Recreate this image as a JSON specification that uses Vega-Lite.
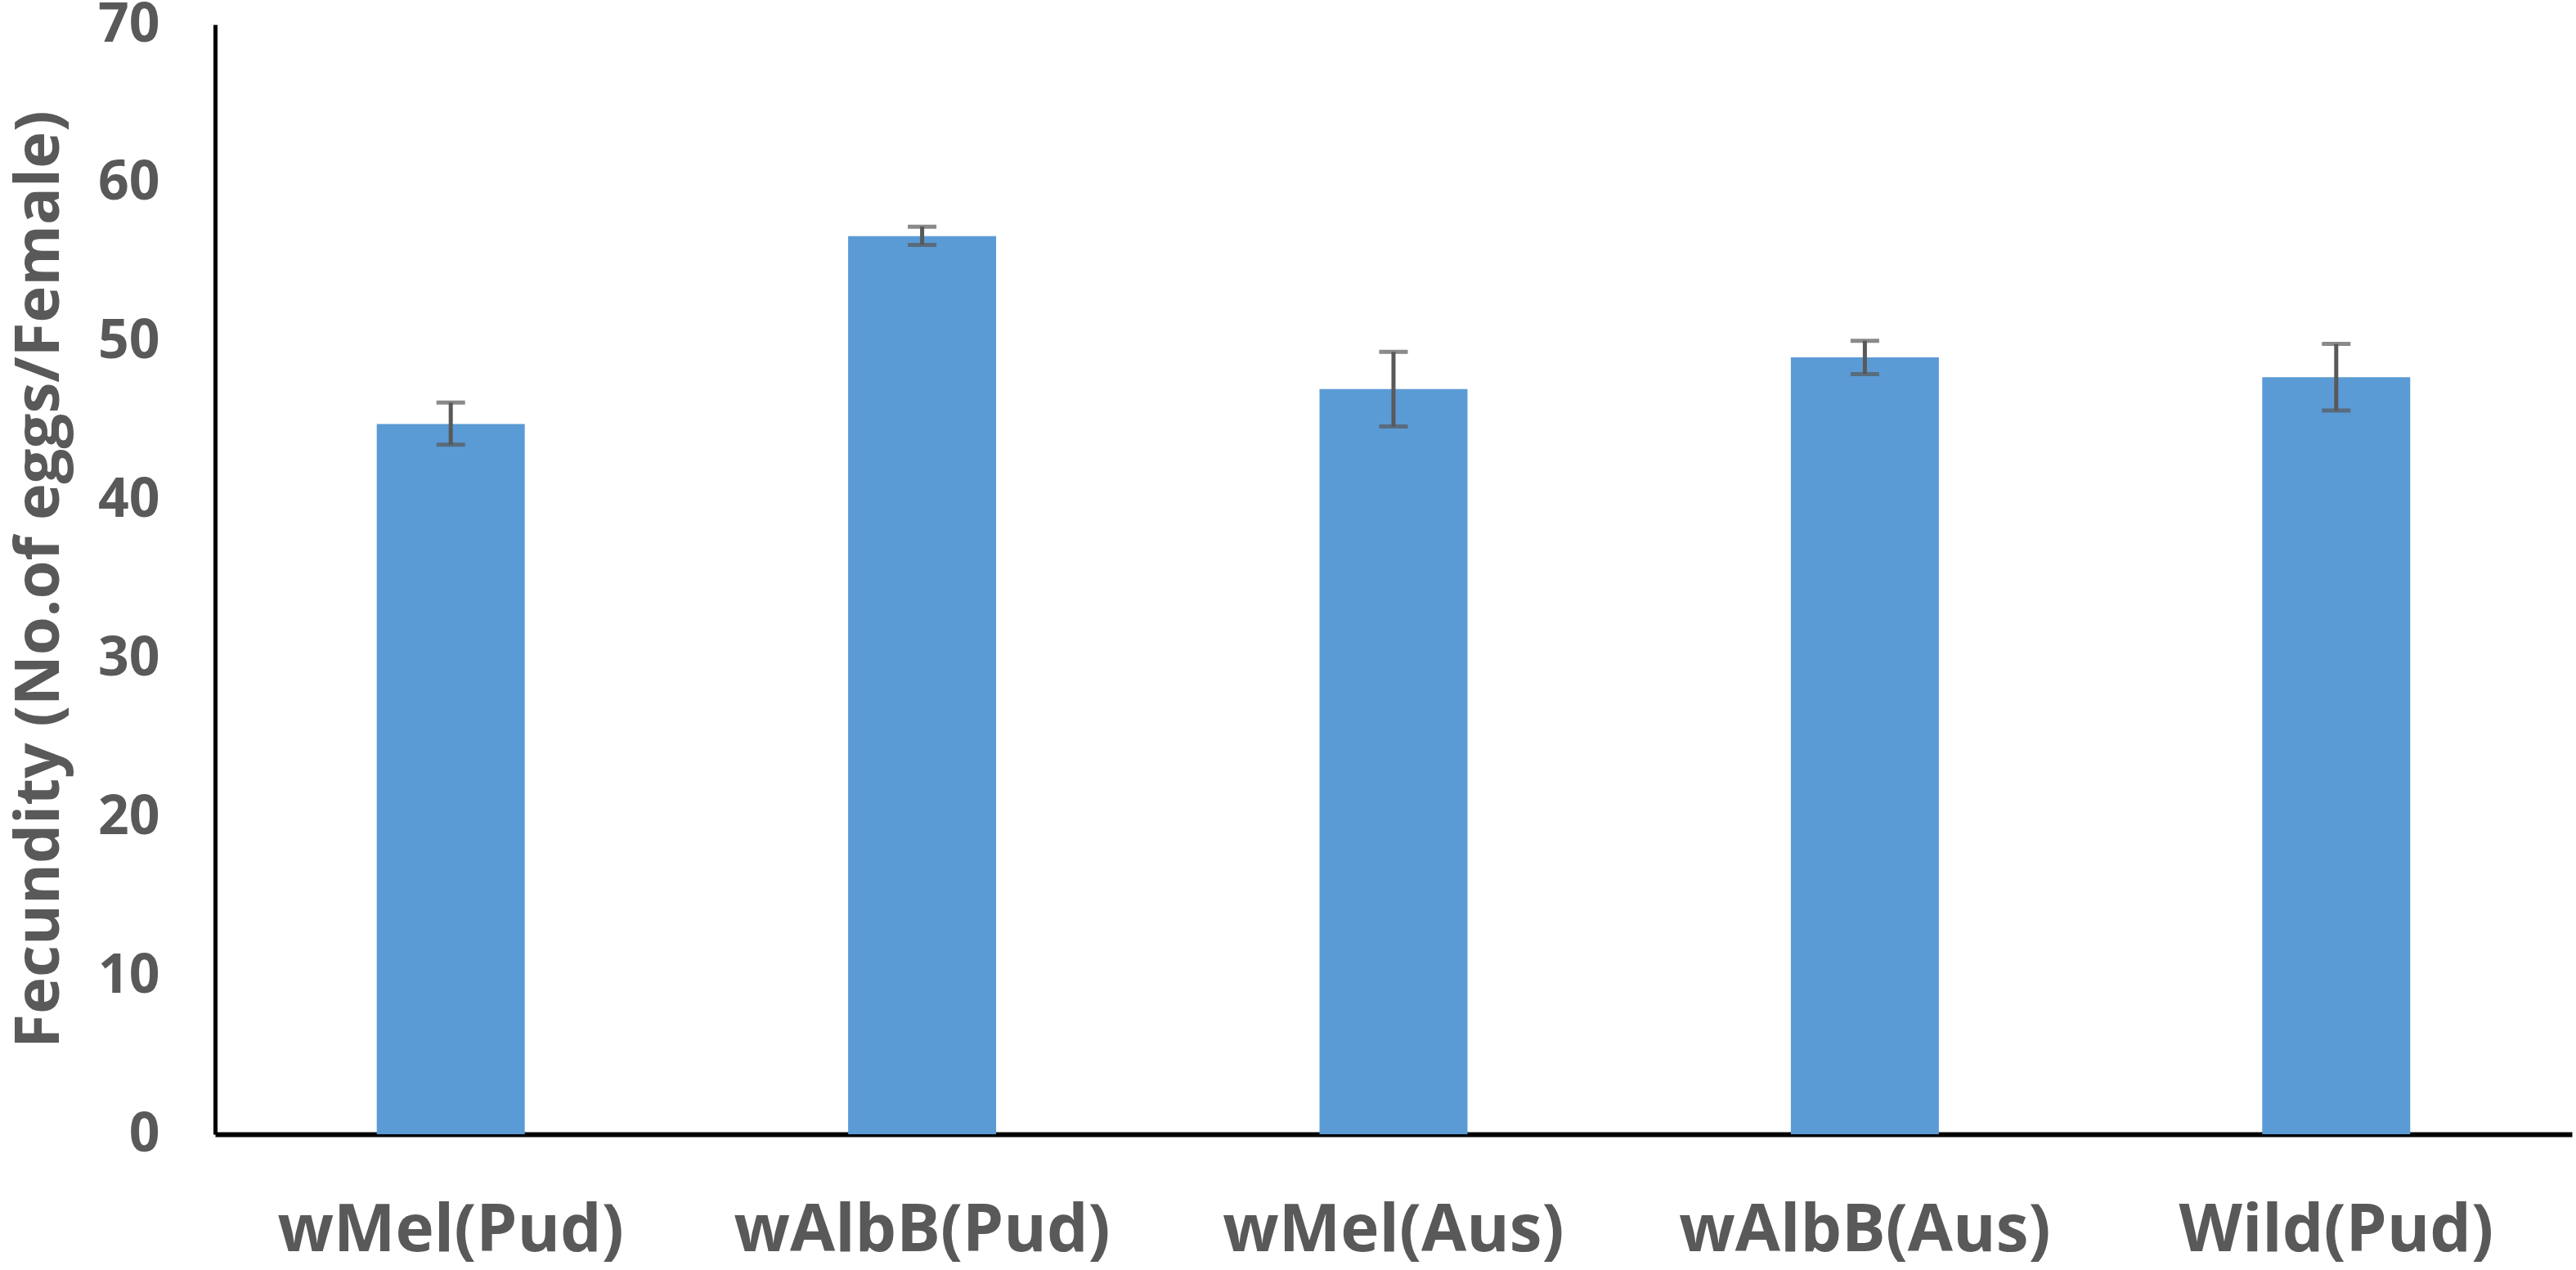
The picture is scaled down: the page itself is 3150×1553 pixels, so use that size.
{
  "$schema": "https://vega.github.io/schema/vega-lite/v6.json",
  "width": 2882,
  "height": 1357,
  "autosize": {"type": "none"},
  "padding": {"left": 263, "top": 30, "right": 5, "bottom": 166},
  "background": "white",
  "config": {"view": {"stroke": null}},
  "data": {
    "values": [
      {"strain": "wMel(Pud)", "mean": 44.8, "lo": 43.5, "hi": 46.15},
      {"strain": "wAlbB(Pud)", "mean": 56.65, "lo": 56.1, "hi": 57.25},
      {"strain": "wMel(Aus)", "mean": 47.0, "lo": 44.65, "hi": 49.35},
      {"strain": "wAlbB(Aus)", "mean": 49.0, "lo": 47.95, "hi": 50.05},
      {"strain": "Wild(Pud)", "mean": 47.75, "lo": 45.65, "hi": 49.85}
    ]
  },
  "encoding": {
    "x": {
      "field": "strain",
      "type": "nominal",
      "sort": null,
      "scale": {"paddingInner": 0.686, "paddingOuter": 0.343},
      "axis": {
        "title": null,
        "labelAngle": 0,
        "labelLimit": 0,
        "labelFont": "Open Sans",
        "labelFontWeight": "bold",
        "labelFontSize": 80,
        "labelColor": "#595959",
        "labelPadding": 79,
        "ticks": false,
        "tickSize": 0,
        "domainColor": "#000000",
        "domainWidth": 6,
        "grid": false
      }
    }
  },
  "layer": [
    {
      "mark": {"type": "bar", "color": "#5B9BD5"},
      "encoding": {
        "y": {
          "field": "mean",
          "type": "quantitative",
          "scale": {"domain": [0, 70], "nice": false},
          "axis": {
            "title": "Fecundity (No.of eggs/Female)",
            "titleFont": "Open Sans",
            "titleFontWeight": "bold",
            "titleFontSize": 76,
            "titleColor": "#595959",
            "titleBaseline": "alphabetic",
            "titleAngle": 270,
            "titleX": -192,
            "titleY": 678,
            "titleAlign": "center",
            "titleLimit": 0,
            "values": [0, 10, 20, 30, 40, 50, 60, 70],
            "labelFont": "Open Sans",
            "labelFontWeight": "bold",
            "labelFontSize": 66,
            "labelColor": "#595959",
            "labelPadding": 68,
            "ticks": false,
            "tickSize": 0,
            "domainColor": "#000000",
            "domainWidth": 5,
            "grid": false
          }
        }
      }
    },
    {
      "mark": {"type": "rule", "color": "#595959", "strokeWidth": 5},
      "encoding": {
        "y": {"field": "lo", "type": "quantitative"},
        "y2": {"field": "hi"}
      }
    },
    {
      "mark": {"type": "tick", "color": "#595959", "size": 35, "thickness": 5},
      "encoding": {
        "y": {"field": "lo", "type": "quantitative"}
      }
    },
    {
      "mark": {"type": "tick", "color": "#595959", "size": 35, "thickness": 5},
      "encoding": {
        "y": {"field": "hi", "type": "quantitative"}
      }
    }
  ]
}
